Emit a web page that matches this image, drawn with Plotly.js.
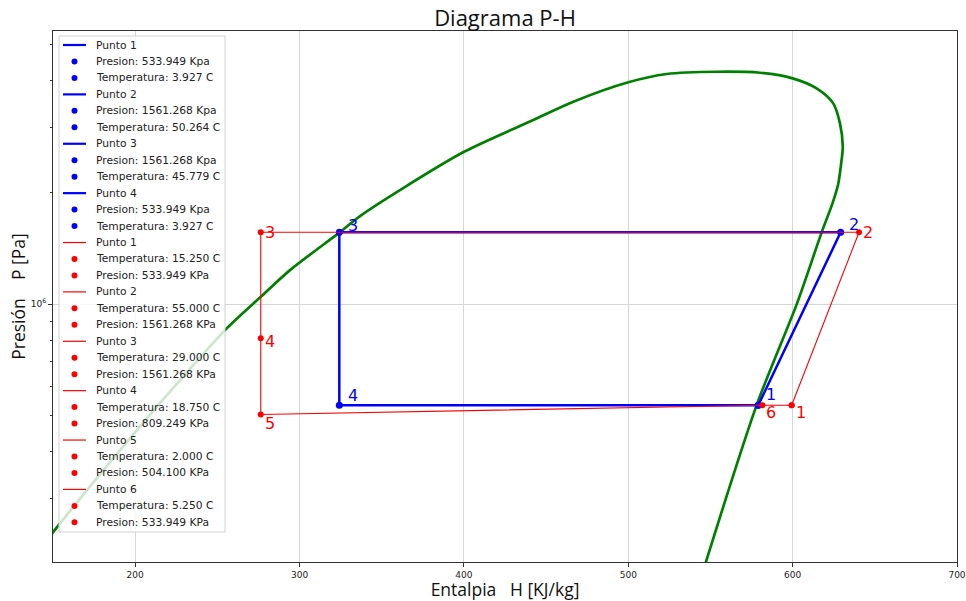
<!DOCTYPE html>
<html><head><meta charset="utf-8">
<script src="https://cdn.plot.ly/plotly-3.0.1.min.js"></script>
<style>html,body{margin:0;padding:0;background:#fff}</style>
</head><body><div id="chart" style="width:966px;height:601px"></div>
<script>
// Saturation dome (H in kJ/kg, P in Pa)
const satH = [142.1, 150.2, 200.0, 227.3, 255.7, 276.4, 294.2, 324.6, 336.8, 361.1, 400.1, 442.2, 466.6, 500.0, 523.4, 553.8, 580.2, 600.0, 614.6, 624.7, 628.8, 630.5, 629.4, 627.6, 624.3, 617.7, 602.5, 578.1, 543.8];
const satP = [218600, 243400, 451900, 623800, 860100, 1046400, 1234900, 1563500, 1727000, 2029000, 2573000, 3133000, 3510000, 3960000, 4169000, 4228000, 4202000, 4059000, 3814000, 3475000, 3069000, 2655000, 2370000, 2093000, 1872000, 1563000, 1000000, 534300, 180300];

// Ideal cycle (blue)
const idealLabels = ['1', '2', '3', '4'];
const idealH = [579.1, 629.2, 324.2, 324.2];
const idealP = [533949, 1561268, 1561268, 533949];
const idealT = [3.927, 50.264, 45.779, 3.927];

// Real cycle (red)
const realLabels = ['1', '2', '3', '4', '5', '6'];
const realH = [599.4, 640.4, 276.4, 276.4, 276.4, 581.6];
const realP = [533949, 1561268, 1561268, 809249, 504100, 533949];
const realT = [15.25, 55.0, 29.0, 18.75, 2.0, 5.25];

// Ticks
const xTicks = [200, 300, 400, 500, 600, 700];
const yTicks = [1e6];
const yTickText = ['10<sup>6</sup>'];
const yMinorTicks = [3e5, 4e5, 5e5, 6e5, 7e5, 8e5, 9e5, 2e6, 3e6, 4e6, 5e6];

// ---- styles / geometry ----
const BLUE = '#0000ff', RED = '#ff0000', GREEN = '#008000';
const ML = 53, MT = 31, PW = 904, PH = 531;
const px2x = p => (p - ML) / PW;
const px2y = p => (MT + PH - p) / PH;
const NB = '\u00A0';
const TITLE_FONT = 'Open Sans, Roboto, sans-serif';

const traces = [
  {x: satH, y: satP, mode: 'lines', line: {color: GREEN, width: 2.7, shape: 'spline', smoothing: 0.8}, showlegend: false, hoverinfo: 'skip'},
  {x: idealH.concat([idealH[0]]), y: idealP.concat([idealP[0]]), mode: 'lines+markers',
   line: {color: BLUE, width: 2.5}, marker: {color: BLUE, size: 7}, showlegend: false},
  {x: realH.concat([realH[0]]), y: realP.concat([realP[0]]), mode: 'lines+markers',
   line: {color: RED, width: 1.1}, marker: {color: RED, size: 6}, showlegend: false}
];

const annotations = [];
const shapes = [];

// point labels
const blueOff = [[13, -11], [13, -8], [14, -7], [14, -10]];
const redOff = [[9, 7], [9, 0], [9, 0], [9, 3], [9, 9], [9, 7]];
idealLabels.forEach((t, i) => annotations.push({
  x: idealH[i], y: Math.log10(idealP[i]), xref: 'x', yref: 'y', text: t, showarrow: false,
  xanchor: 'center', yanchor: 'middle', xshift: blueOff[i][0], yshift: -blueOff[i][1],
  font: {family: 'DejaVu Sans', size: 16, color: BLUE}
}));
realLabels.forEach((t, i) => annotations.push({
  x: realH[i], y: Math.log10(realP[i]), xref: 'x', yref: 'y', text: t, showarrow: false,
  xanchor: 'center', yanchor: 'middle', xshift: redOff[i][0], yshift: -redOff[i][1],
  font: {family: 'DejaVu Sans', size: 16, color: RED}
}));

// legend entries
const entries = [];
idealLabels.forEach((t, i) => {
  entries.push({kind: 'line', color: BLUE, w: 2.2, text: 'Punto ' + t});
  entries.push({kind: 'dot', color: BLUE, text: 'Presion: ' + (idealP[i] / 1000).toFixed(3) + ' Kpa'});
  entries.push({kind: 'dot', color: BLUE, text: 'Temperatura: ' + idealT[i].toFixed(3) + ' C'});
});
realLabels.forEach((t, i) => {
  entries.push({kind: 'line', color: RED, w: 1.2, text: 'Punto ' + t});
  entries.push({kind: 'dot', color: RED, text: 'Temperatura: ' + realT[i].toFixed(3) + ' C'});
  entries.push({kind: 'dot', color: RED, text: 'Presion: ' + (realP[i] / 1000).toFixed(3) + ' KPa'});
});

shapes.push({type: 'rect', xref: 'paper', yref: 'paper', layer: 'above',
  x0: px2x(59), x1: px2x(225), y0: px2y(36), y1: px2y(532),
  fillcolor: 'rgba(255,255,255,0.8)', line: {color: '#d0d0d0', width: 1}});

entries.forEach((e, i) => {
  const py = 45 + 16.46 * i;
  if (e.kind === 'line') {
    shapes.push({type: 'line', xref: 'paper', yref: 'paper', layer: 'above',
      x0: px2x(63), x1: px2x(86), y0: px2y(py), y1: px2y(py), line: {color: e.color, width: e.w}});
  } else {
    shapes.push({type: 'circle', xref: 'paper', yref: 'paper', layer: 'above',
      xsizemode: 'pixel', ysizemode: 'pixel', xanchor: px2x(74.5), yanchor: px2y(py),
      x0: -3, x1: 3, y0: -3, y1: 3, fillcolor: e.color, line: {color: e.color, width: 0}});
  }
  annotations.push({x: px2x(94), y: px2y(py), xref: 'paper', yref: 'paper', text: e.text,
    showarrow: false, xanchor: 'left', yanchor: 'middle',
    font: {family: 'DejaVu Sans', size: 10.7, color: '#222'}});
});

const axisCommon = {
  showline: true, mirror: true, linecolor: '#333', linewidth: 1,
  ticks: 'outside', ticklen: 4, tickcolor: '#333', tickwidth: 1,
  showgrid: true, gridcolor: '#d6d6d6', gridwidth: 1, zeroline: false,
  tickfont: {family: 'DejaVu Sans', size: 9, color: '#222'}
};

const layout = {
  width: 966, height: 601,
  margin: {l: ML, r: 966 - ML - PW, t: MT, b: 601 - MT - PH},
  paper_bgcolor: '#fff', plot_bgcolor: '#fff',
  showlegend: false,
  title: {text: 'Diagrama P-H', x: 0.5, xref: 'paper', xanchor: 'center', y: 1 - 18 / 601, yanchor: 'middle',
    font: {family: TITLE_FONT, size: 22, color: '#111'}},
  xaxis: Object.assign({}, axisCommon, {
    range: [150, 700], tickmode: 'array', tickvals: xTicks, ticktext: xTicks.map(String),
    title: {text: 'Entalpia' + NB + NB + NB + 'H [KJ/kg]', standoff: 9,
      font: {family: TITLE_FONT, size: 17.5, color: '#111'}}
  }),
  yaxis: Object.assign({}, axisCommon, {
    type: 'log', range: [5.305, 6.736], tickmode: 'array', tickvals: yTicks, ticktext: yTickText,
    minor: {tickmode: 'array', tickvals: yMinorTicks, ticks: 'outside', ticklen: 2, tickcolor: '#333', showgrid: false},
    title: {text: 'Presión' + NB + NB + NB + NB + 'P [Pa]', standoff: 0,
      font: {family: TITLE_FONT, size: 17.5, color: '#111'}}
  }),
  annotations: annotations,
  shapes: shapes
};

Plotly.newPlot('chart', traces, layout, {displayModeBar: false, staticPlot: true});
</script>
</body></html>
